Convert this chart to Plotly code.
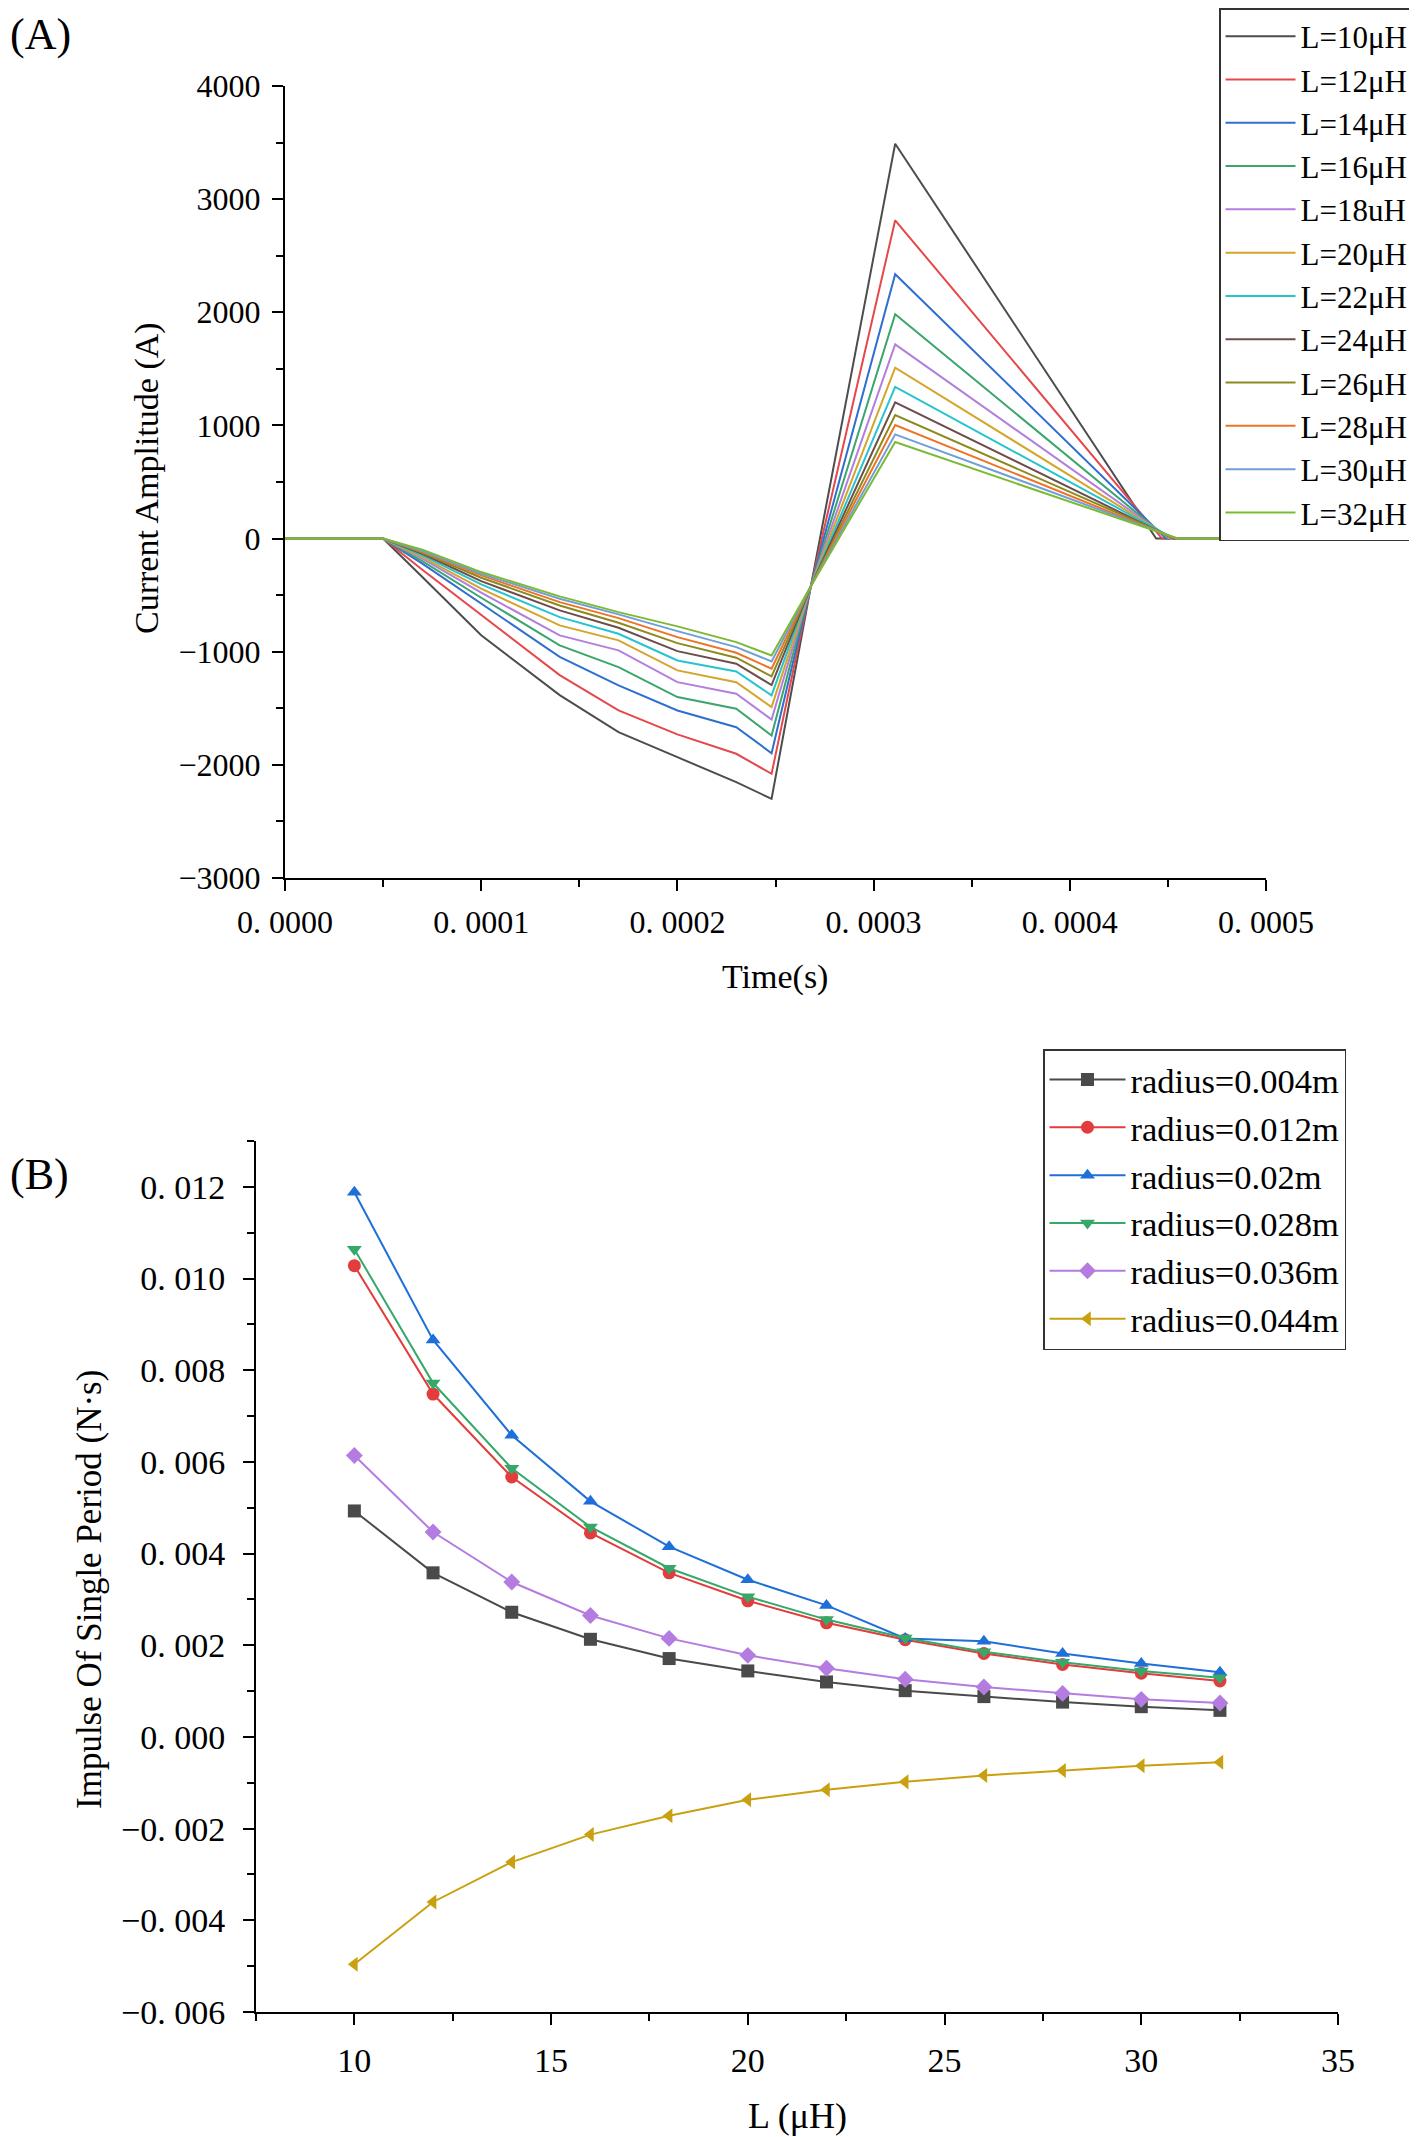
import plotly.graph_objects as go

# ---- panel A: coil current waveforms ----
inductance_uH = [10, 12, 14, 16, 18, 20, 22, 24, 26, 28, 30, 32]
legend_a = ["L=10μH", "L=12μH", "L=14μH", "L=16μH", "L=18uH", "L=20μH",
            "L=22μH", "L=24μH", "L=26μH", "L=28μH", "L=30μH", "L=32μH"]

# sample times (s) shared by every curve, then current (A) at each of them
t_knots = [0.0, 0.00005, 0.00007, 0.0001, 0.00014, 0.00017, 0.0002, 0.00023,
           0.000248, 0.000268, 0.000311]
i_70us = [-340, -275, -222, -199, -178, -164, -149, -134, -125, -116, -110, -98]
i_100us = [-855, -678, -576, -523, -478, -443, -405, -376, -346, -325, -311, -296]
i_140us = [-1384, -1207, -1045, -944, -856, -767, -694, -635, -591, -562, -532, -511]
i_170us = [-1711, -1519, -1298, -1136, -988, -900, -841, -788, -744, -703, -670, -650]
i_200us = [-1932, -1731, -1519, -1401, -1269, -1165, -1077, -995, -924, -871, -818, -776]
i_230us = [-2153, -1902, -1667, -1504, -1372, -1269, -1174, -1106, -1053, -1009, -959, -915]
i_min = [-2300, -2079, -1897, -1740, -1599, -1490, -1386, -1295, -1218, -1150, -1086, -1033]
i_cross = -422
i_peak = [3490, 2813, 2336, 1982, 1717, 1511, 1340, 1204, 1092, 1004, 921, 853]
t_zero = [0.000444, 0.000447, 0.000449, 0.00045, 0.000451, 0.000452,
          0.000453, 0.000453, 0.000454, 0.000454, 0.000455, 0.000455]
t_end = 0.0005

colors_a = ["#4d4d4d", "#e5484a", "#2f6fcf", "#3ba56c", "#b27fdc", "#d4a52a",
            "#27c4cf", "#6e4c4c", "#8c8a1f", "#ec7424", "#6f9ed9", "#7cba34"]

# ---- panel B: impulse of single period vs L ----
L_values = [10, 12, 14, 16, 18, 20, 22, 24, 26, 28, 30, 32]
imp_r004 = [0.00493, 0.00358, 0.00272, 0.00213, 0.00171, 0.00144, 0.00120, 0.00101, 0.00088, 0.00076, 0.00066, 0.00058]
imp_r012 = [0.01028, 0.00748, 0.00567, 0.00445, 0.00358, 0.00297, 0.00249, 0.00212, 0.00182, 0.00158, 0.00139, 0.00122]
imp_r020 = [0.01188, 0.00866, 0.00658, 0.00514, 0.00415, 0.00343, 0.00287, 0.00215, 0.00209, 0.00182, 0.00160, 0.00141]
imp_r028 = [0.01064, 0.00772, 0.00586, 0.00458, 0.00368, 0.00306, 0.00256, 0.00216, 0.00186, 0.00163, 0.00144, 0.00129]
imp_r036 = [0.00614, 0.00447, 0.00338, 0.00265, 0.00215, 0.00178, 0.00150, 0.00126, 0.00109, 0.00095, 0.00082, 0.00074]
imp_r044 = [-0.00496, -0.00360, -0.00273, -0.00213, -0.00172, -0.00137, -0.00115, -0.00098, -0.00084, -0.00073, -0.00063, -0.00055]

legend_b = ["radius=0.004m", "radius=0.012m", "radius=0.02m",
            "radius=0.028m", "radius=0.036m", "radius=0.044m"]
colors_b = ["#4a4a4a", "#e23c3c", "#1f6fd8", "#35a86a", "#b47ce0", "#c9a010"]
symbols_b = ["square", "circle", "triangle-up", "triangle-down", "diamond", "triangle-left"]

# the page puts the figure 8px in from the window corner
OFF = 8
W, H = 1417 - OFF, 2137 - OFF
font = "Liberation Serif"


def fx(px):
    return (px - OFF) / W


def fy(py):
    return 1 - (py - OFF) / H


fig = go.Figure()

for k in range(len(inductance_uH)):
    xs = t_knots + [t_zero[k], t_end]
    ys = [0, 0, i_70us[k], i_100us[k], i_140us[k], i_170us[k], i_200us[k], i_230us[k],
          i_min[k], i_cross, i_peak[k], 0, 0]
    fig.add_trace(go.Scatter(x=xs, y=ys, mode="lines", name=legend_a[k],
                             line=dict(color=colors_a[k], width=2),
                             xaxis="x", yaxis="y", legend="legend"))

series_b = [imp_r004, imp_r012, imp_r020, imp_r028, imp_r036, imp_r044]
for k, vals in enumerate(series_b):
    fig.add_trace(go.Scatter(x=L_values, y=vals, mode="lines+markers", name=legend_b[k],
                             line=dict(color=colors_b[k], width=2),
                             marker=dict(symbol=symbols_b[k], size=13, color=colors_b[k]),
                             xaxis="x2", yaxis="y2", legend="legend2"))

# tick labels as drawn in the figure
xa_vals = [0, 0.0001, 0.0002, 0.0003, 0.0004, 0.0005]
xa_text = ["0. 0000", "0. 0001", "0. 0002", "0. 0003", "0. 0004", "0. 0005"]
ya_vals = [-3000, -2000, -1000, 0, 1000, 2000, 3000, 4000]
ya_text = ["\u22123000", "\u22122000", "\u22121000", "0", "1000", "2000", "3000", "4000"]
yb_vals = [-0.006, -0.004, -0.002, 0, 0.002, 0.004, 0.006, 0.008, 0.010, 0.012]
yb_text = ["\u22120. 006", "\u22120. 004", "\u22120. 002", "0. 000", "0. 002",
           "0. 004", "0. 006", "0. 008", "0. 010", "0. 012"]


def axis_style(size, standoff):
    return dict(showline=True, linecolor="black", linewidth=2, mirror=False,
                ticks="outside", ticklen=11, tickwidth=2, tickcolor="black",
                showgrid=False, zeroline=False, automargin=False,
                ticklabelstandoff=standoff,
                tickfont=dict(family=font, size=size, color="black"))


def minor_ticks(**kw):
    return dict(ticks="outside", ticklen=7, tickwidth=2, tickcolor="black", **kw)


fig.update_layout(
    width=W, height=H,
    margin=dict(l=0, r=0, t=0, b=0),
    paper_bgcolor="white", plot_bgcolor="white",
    font=dict(family=font, color="black"),
    xaxis=dict(domain=[fx(285), fx(1266)], anchor="y", range=[0, 0.0005],
               tickvals=xa_vals, ticktext=xa_text, minor=minor_ticks(dtick=0.00005),
               **axis_style(32, 4)),
    yaxis=dict(domain=[fy(878), fy(86)], anchor="x", range=[-3000, 4000],
               tickvals=ya_vals, ticktext=ya_text, minor=minor_ticks(dtick=500),
               **axis_style(32, 5)),
    xaxis2=dict(domain=[fx(256), fx(1338)], anchor="y2", range=[7.5, 35],
                tickvals=[10, 15, 20, 25, 30, 35], minor=minor_ticks(tick0=7.5, dtick=2.5),
                **axis_style(34, 6)),
    yaxis2=dict(domain=[fy(2012), fy(1141)], anchor="x2", range=[-0.006, 0.013],
                tickvals=yb_vals, ticktext=yb_text, minor=minor_ticks(dtick=0.001),
                **axis_style(34, 11)),
    legend=dict(x=fx(1414), y=1, xanchor="right", yanchor="top",
                bordercolor="#333333", borderwidth=1.5, bgcolor="white", itemwidth=70,
                font=dict(family=font, size=31, color="black")),
    legend2=dict(x=fx(1346), y=fy(1049), xanchor="right", yanchor="top",
                 bordercolor="#333333", borderwidth=1.5, bgcolor="white", itemwidth=76,
                 font=dict(family=font, size=34.5, color="black")),
)

labels = [
    ("(A)", 0, 34, 0, "left", 44),
    ("(B)", 0, 1174, 0, "left", 44),
    ("Current Amplitude (A)", 147, 478, -90, "center", 34),
    ("Time(s)", 775, 977, 0, "center", 34),
    ("Impulse Of Single Period (N·s)", 89, 1590, -90, "center", 35),
    ("L (μH)", 797, 2116, 0, "center", 36),
]
for text, px, py, ang, xa, size in labels:
    fig.add_annotation(text=text, x=max(fx(px), 0), y=fy(py), xref="paper", yref="paper",
                       xanchor=xa, yanchor="middle", textangle=ang, showarrow=False,
                       font=dict(family=font, size=size, color="black"))

fig.write_html("out.html")
